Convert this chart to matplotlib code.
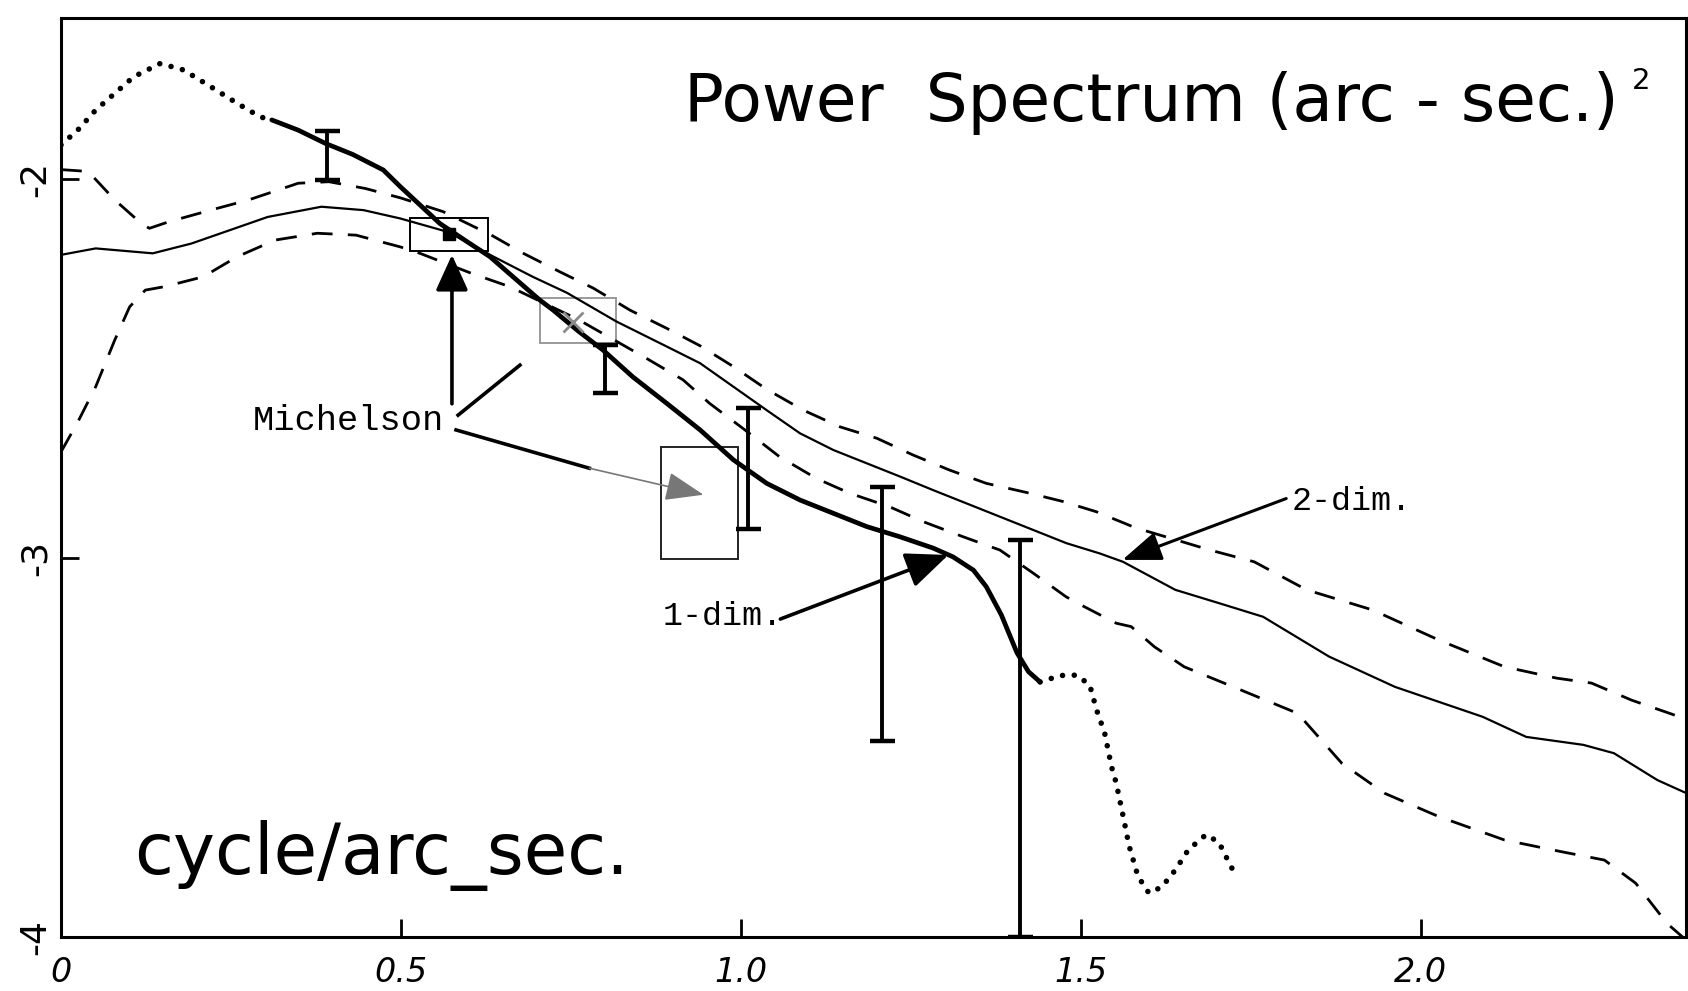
import numpy as np
import matplotlib
matplotlib.use("Agg")
import matplotlib.pyplot as plt
from matplotlib.patches import Rectangle
from matplotlib.ticker import FixedLocator, FixedFormatter

# ---- data (log10 power vs cycle/arc-sec) ----
# 1-dim, thick solid part
dim1_x = [0.31, 0.349, 0.389, 0.429, 0.474, 0.499, 0.529, 0.557, 0.597, 0.631,
          0.67, 0.704, 0.724, 0.76, 0.797, 0.841, 0.891, 0.94, 0.989, 1.038,
          1.087, 1.136, 1.185, 1.234, 1.283, 1.312, 1.342, 1.361, 1.383, 1.406,
          1.423, 1.44]
dim1_y = [-1.844, -1.871, -1.906, -1.935, -1.976, -2.02, -2.07, -2.117, -2.165, -2.205,
          -2.266, -2.319, -2.346, -2.40, -2.451, -2.522, -2.592, -2.662, -2.741, -2.803,
          -2.847, -2.882, -2.917, -2.944, -2.974, -2.997, -3.032, -3.076, -3.15, -3.25,
          -3.30, -3.327]
# 1-dim, dotted (unreliable) ends
dot_lo_x = [0.0, 0.025, 0.051, 0.079, 0.107, 0.146, 0.18, 0.22, 0.259, 0.293, 0.31]
dot_lo_y = [-1.91, -1.87, -1.818, -1.774, -1.73, -1.695, -1.712, -1.756, -1.80, -1.836, -1.844]
dot_hi_x = [1.44, 1.47, 1.494, 1.513, 1.523, 1.535, 1.545, 1.552, 1.562, 1.571,
            1.584, 1.60, 1.619, 1.639, 1.658, 1.684, 1.703, 1.716, 1.726]
dot_hi_y = [-3.327, -3.31, -3.309, -3.335, -3.40, -3.462, -3.55, -3.594, -3.68, -3.76,
            -3.84, -3.884, -3.868, -3.823, -3.77, -3.73, -3.75, -3.797, -3.832]

# 2-dim, thin solid
dim2_x = [0.0, 0.051, 0.135, 0.192, 0.248, 0.304, 0.383, 0.445, 0.499, 0.57,
          0.631, 0.694, 0.744, 0.817, 0.891, 0.94, 0.989, 1.038, 1.087, 1.136,
          1.185, 1.234, 1.283, 1.332, 1.381, 1.43, 1.479, 1.528, 1.562, 1.639,
          1.703, 1.768, 1.865, 1.962, 2.091, 2.155, 2.239, 2.284, 2.348, 2.39]
dim2_y = [-2.20, -2.183, -2.196, -2.17, -2.135, -2.10, -2.073, -2.082, -2.104, -2.14,
          -2.20, -2.258, -2.30, -2.376, -2.442, -2.486, -2.548, -2.61, -2.671, -2.715,
          -2.75, -2.785, -2.821, -2.856, -2.891, -2.926, -2.961, -2.988, -3.01, -3.084,
          -3.119, -3.155, -3.26, -3.34, -3.419, -3.472, -3.493, -3.515, -3.586, -3.62]

# 2-dim upper / lower limits (dashed)
up_x = [0.0, 0.04, 0.079, 0.118, 0.13, 0.158, 0.22, 0.276, 0.349, 0.394,
        0.448, 0.50, 0.562, 0.633, 0.68, 0.734, 0.783, 0.837, 0.891, 0.94,
        0.989, 1.038, 1.092, 1.146, 1.2, 1.253, 1.307, 1.361, 1.42, 1.474,
        1.523, 1.58, 1.69, 1.755, 1.832, 1.929, 2.026, 2.123, 2.2, 2.251,
        2.31, 2.387]
up_y = [-1.975, -1.98, -2.055, -2.117, -2.13, -2.113, -2.082, -2.055, -2.011, -2.007,
        -2.025, -2.05, -2.086, -2.148, -2.196, -2.245, -2.288, -2.346, -2.394, -2.44,
        -2.495, -2.555, -2.61, -2.654, -2.684, -2.728, -2.768, -2.803, -2.827, -2.851,
        -2.878, -2.92, -2.979, -3.01, -3.084, -3.137, -3.216, -3.287, -3.317, -3.33,
        -3.375, -3.423]
lo_x = [0.0, 0.025, 0.051, 0.079, 0.101, 0.124, 0.152, 0.209, 0.259, 0.315,
        0.377, 0.434, 0.499, 0.528, 0.604, 0.66, 0.76, 0.861, 0.915, 0.954,
        1.003, 1.057, 1.111, 1.16, 1.219, 1.268, 1.327, 1.381, 1.43, 1.478,
        1.496, 1.552, 1.574, 1.608, 1.652, 1.735, 1.819, 1.884, 1.947, 2.026,
        2.123, 2.207, 2.27, 2.316, 2.362, 2.385]
lo_y = [-2.72, -2.64, -2.548, -2.425, -2.337, -2.293, -2.284, -2.258, -2.205, -2.161,
        -2.143, -2.148, -2.179, -2.196, -2.249, -2.284, -2.37, -2.473, -2.53, -2.592,
        -2.658, -2.733, -2.79, -2.829, -2.865, -2.904, -2.944, -2.979, -3.04, -3.102,
        -3.12, -3.172, -3.181, -3.234, -3.287, -3.348, -3.41, -3.542, -3.621, -3.682,
        -3.744, -3.775, -3.797, -3.858, -3.964, -4.0]

# error bars on the 1-dim curve
err_x = [0.391, 0.80, 1.01, 1.208, 1.41]
err_lo = [-2.003, -2.565, -2.924, -3.482, -4.0]
err_hi = [-1.873, -2.438, -2.605, -2.812, -2.953]

# Michelson boxes: x0, x1, y0, y1
box_x0 = [0.513, 0.704, 0.883]
box_x1 = [0.628, 0.816, 0.996]
box_y0 = [-2.19, -2.433, -3.003]
box_y1 = [-2.104, -2.315, -2.708]

xticks = [0.0, 0.5, 1.0, 1.5, 2.0]
xtick_labels = ["0", "0.5", "1.0", "1.5", "2.0"]
yticks = [-2, -3, -4]
ytick_labels = ["-2", "-3", "-4"]

# ---- figure ----
fig = plt.figure(figsize=(16.88, 9.91), dpi=100)
ax = fig.add_axes([61 / 1688, 54 / 991, 1625 / 1688, 919 / 991])
ax.set_xlim(0, 2.39)
ax.set_ylim(-4, -1.575)

k = "black"
ax.plot(dim1_x, dim1_y, color=k, lw=3.4, solid_capstyle="round")
ax.plot(dot_lo_x, dot_lo_y, color=k, lw=4, linestyle=(0, (0.01, 2.1)),
        dash_capstyle="round")
ax.plot(dot_hi_x, dot_hi_y, color=k, lw=4, linestyle=(0, (0.01, 2.1)),
        dash_capstyle="round")
ax.plot(dim2_x, dim2_y, color=k, lw=1.6)
ax.plot(up_x, up_y, color=k, lw=2.0, linestyle=(0, (7.5, 5.5)))
ax.plot(lo_x, lo_y, color=k, lw=2.0, linestyle=(0, (7.5, 5.5)))

mid = [(a + b) / 2 for a, b in zip(err_lo, err_hi)]
ax.errorbar(err_x, mid, yerr=[np.subtract(mid, err_lo), np.subtract(err_hi, mid)],
            fmt="none", ecolor=k, elinewidth=2.8, capsize=9, capthick=3.2)

# boxes
box_col = [k, "#9a9a9a", "#222222"]
for x0, x1, y0, y1, c in zip(box_x0, box_x1, box_y0, box_y1, box_col):
    ax.add_patch(Rectangle((x0, y0), x1 - x0, y1 - y0, fill=False,
                           edgecolor=c, lw=1.4))
ax.plot([0.571], [-2.145], marker="s", ms=8, color=k)
ax.plot([0.753], [-2.376], marker="x", ms=14, mew=2, color="#8a8a8a")

# arrows
def arrow(tip, start, color=k, hl=1.3, hw=0.55, lw=2.6):
    ax.annotate("", xy=tip, xytext=start,
                arrowprops=dict(arrowstyle="-|>,head_length=%g,head_width=%g" % (hl, hw),
                                mutation_scale=20, lw=lw, color=color,
                                shrinkA=0, shrinkB=0))

arrow((0.575, -2.20), (0.575, -2.593), hl=1.1, hw=0.5)
ax.plot([0.584, 0.675], [-2.623, -2.491], color=k, lw=2.6)
ax.plot([0.581, 0.777], [-2.662, -2.763], color=k, lw=2.6)
arrow((0.945, -2.833), (0.777, -2.763), color="#777777", lw=1.2, hl=1.2, hw=0.45)
arrow((1.305, -2.992), (1.058, -3.161))
arrow((1.561, -3.005), (1.802, -2.843), hl=1.2, hw=0.45, lw=2.2)

mono = "Liberation Mono"
ax.text(0.282, -2.636, "Michelson", family=mono, fontsize=25.5, va="center", ha="left")
ax.text(0.885, -3.155, "1-dim.", family=mono, fontsize=24, va="center", ha="left")
ax.text(1.81, -2.851, "2-dim.", family=mono, fontsize=24, va="center", ha="left")

sans = ["DejaVu Sans"]
ax.text(0.916, -1.80, "Power  Spectrum (arc - sec.)", family=sans, fontsize=47.5,
        va="center", ha="left")
ax.text(2.31, -1.742, "2", family=sans, fontsize=21, va="center", ha="left")
ax.text(0.108, -3.786, "cycle/arc_sec.", family=sans, fontsize=51,
        va="center", ha="left")

# axes styling
for s in ax.spines.values():
    s.set_linewidth(2.2)
ax.xaxis.set_major_locator(FixedLocator(xticks))
ax.xaxis.set_major_formatter(FixedFormatter(xtick_labels))
ax.yaxis.set_major_locator(FixedLocator(yticks))
ax.yaxis.set_major_formatter(FixedFormatter(ytick_labels))
ax.tick_params(direction="in", length=13, width=2)
ax.tick_params(axis="x", pad=14)
ax.tick_params(axis="y", pad=6)
for lab in ax.get_xticklabels():
    lab.set_family("DejaVu Sans")
    lab.set_style("italic")
    lab.set_fontsize(24)
for lab in ax.get_yticklabels():
    lab.set_family("DejaVu Sans")
    lab.set_fontsize(26)
    lab.set_rotation(90)
    lab.set_va("center")

fig.savefig("out.png", dpi=100, facecolor="white")
